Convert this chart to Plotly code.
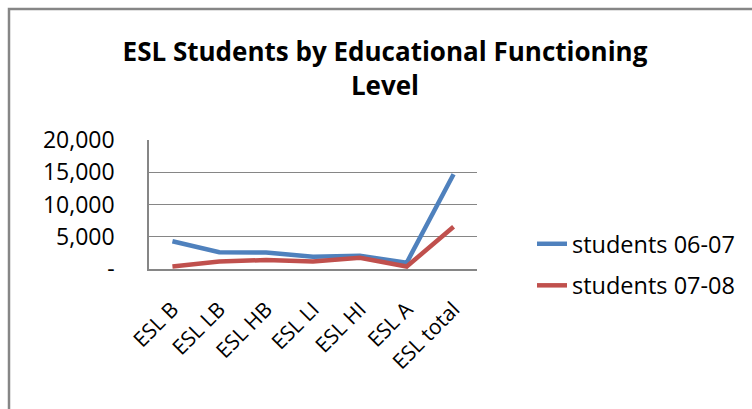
import plotly.graph_objects as go

categories = ["ESL B", "ESL LB", "ESL HB", "ESL LI", "ESL HI", "ESL A", "ESL total"]
students_0607 = [4300, 2600, 2550, 1900, 2050, 980, 14700]
students_0708 = [380, 1150, 1400, 1150, 1750, 380, 6550]
series_names = ["students 06-07", "students 07-08"]
y_tickvals = [0, 5000, 10000, 15000, 20000]
y_ticktext = ["-", "5,000", "10,000", "15,000", "20,000"]

W, H = 752, 409
FONT = "'Open Sans', sans-serif"

fig = go.Figure()
fig.add_trace(go.Scatter(x=categories, y=students_0607, name=series_names[0], mode="lines",
                         line=dict(color="#4F81BD", width=4.5), legendgroup="a"))
fig.add_trace(go.Scatter(x=categories, y=students_0708, name=series_names[1], mode="lines",
                         line=dict(color="#C0504D", width=4.5), legendgroup="b"))

fig.update_layout(
    width=W, height=H,
    margin=dict(l=0, r=0, t=0, b=0),
    paper_bgcolor="white", plot_bgcolor="white",
    font=dict(family=FONT, color="black"),
    title=dict(text="<b>ESL Students by Educational Functioning<br>Level</b>",
               x=385 / W, xanchor="center", y=1 - 61 / H, yanchor="top",
               font=dict(size=26, family=FONT), automargin=False),
    xaxis=dict(domain=[149 / W, 477 / W], showgrid=False, showline=True,
               linecolor="#868686", linewidth=1.5, tickangle=-45,
               tickfont=dict(size=21), ticks="", range=[-0.5, 6.5], automargin=False,
               ticklabelstandoff=18),
    yaxis=dict(domain=[1 - 269 / H, 1 - 140 / H], range=[0, 20000],
               tickvals=y_tickvals, ticktext=y_ticktext, showgrid=True,
               gridcolor="#868686", gridwidth=1, showline=True,
               linecolor="#868686", linewidth=1.5, tickfont=dict(size=23),
               ticks="", ticklen=0, zeroline=False, automargin=False,
               ticklabelstandoff=28),
    showlegend=True,
    legend=dict(x=532 / W, y=1 - 222 / H, xanchor="left", yanchor="top",
                font=dict(size=23.5), traceorder="grouped", tracegroupgap=8,
                bgcolor="rgba(0,0,0,0)"),
    shapes=[dict(type="rect", xref="paper", yref="paper",
                 x0=9 / W, x1=1.2, y0=-0.2, y1=1 - 9 / H,
                 line=dict(color="#868686", width=2.5), fillcolor="rgba(0,0,0,0)",
                 layer="below")],
)

fig.write_html("out.html")
